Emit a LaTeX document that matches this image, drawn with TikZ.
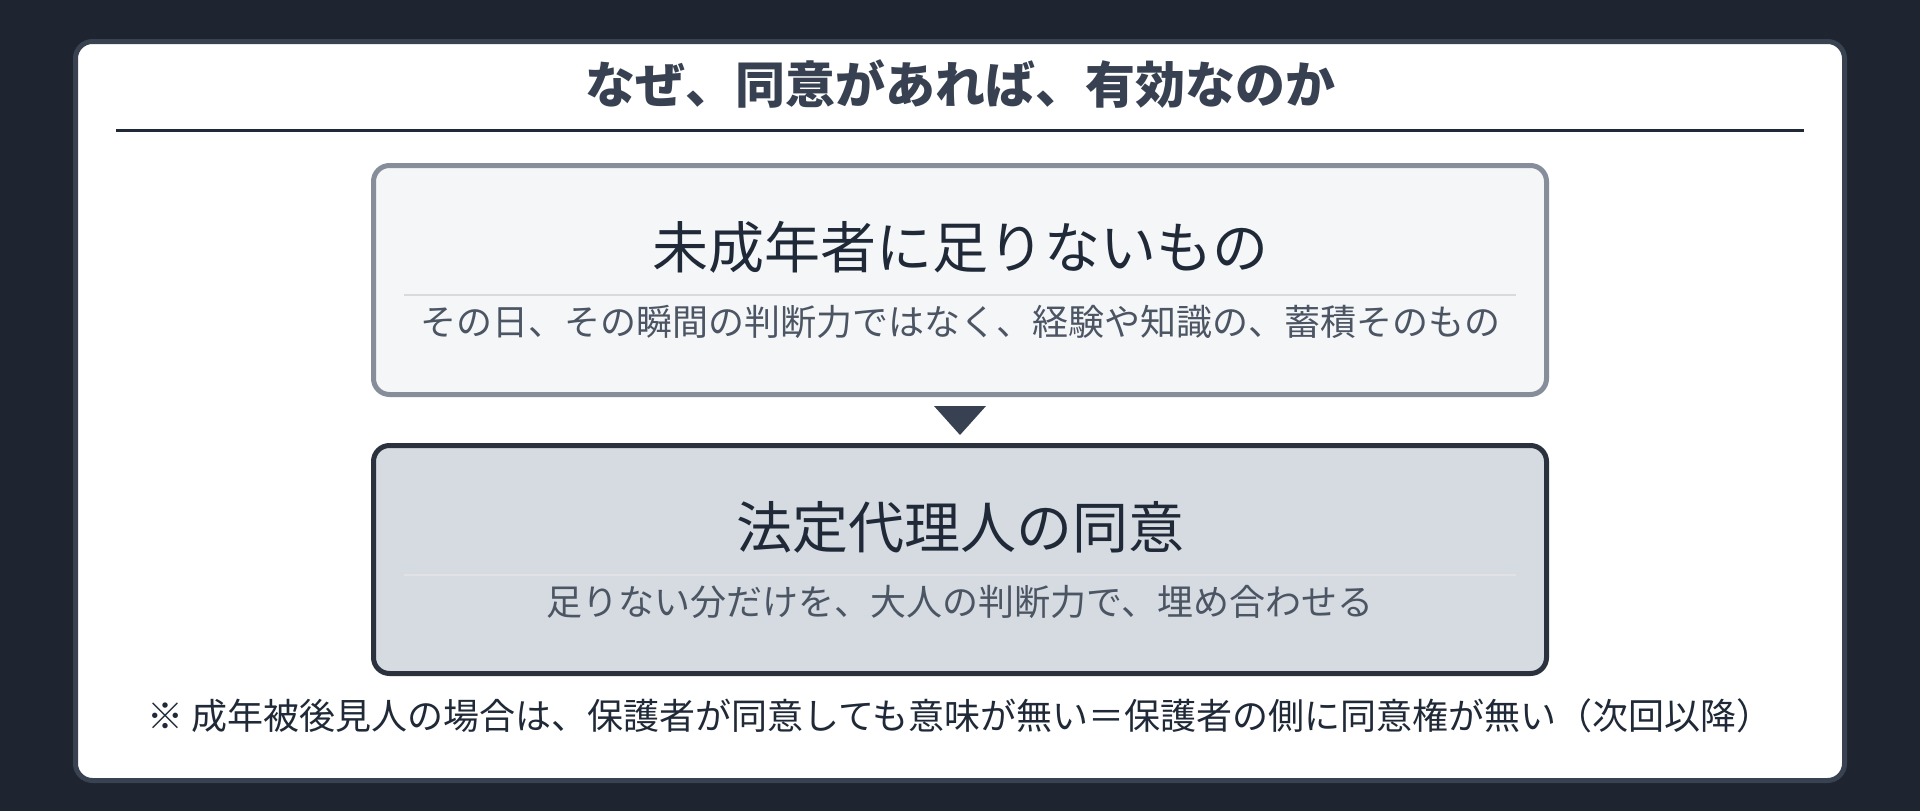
\documentclass[tikz,border=0pt]{standalone}
\usepackage{fontspec}
\setmainfont{Noto Sans CJK JP}
\usetikzlibrary{positioning}
\definecolor{bgdark}{HTML}{1E2530}
\definecolor{cardline}{HTML}{394250}
\definecolor{titlecol}{HTML}{374151}
\definecolor{inkdark}{HTML}{1F2937}
\definecolor{inksub}{HTML}{4B5563}
\definecolor{needfill}{HTML}{F5F6F8}
\definecolor{needline}{HTML}{868E9B}
\definecolor{consfill}{HTML}{D6DAE1}
\definecolor{consline}{HTML}{2B323D}
\definecolor{needrule}{HTML}{D8DADD}
\definecolor{consrule}{HTML}{E0E2E6}
\tikzset{
  panel/.style={rectangle, rounded corners=16pt, line width=5pt, minimum width=1173pt, inner sep=0pt},
  headtext/.style={inner sep=0pt, text=inkdark, font=\fontsize{56}{60}\selectfont},
  subtext/.style={inner sep=0pt, text=inksub, font=\fontsize{36}{40}\selectfont},
}
\begin{document}
\begin{tikzpicture}[x=1pt, y=-1pt]
      \fill[bgdark] (0,0) rectangle (1920,811);
      \draw[cardline, line width=5pt, fill=white, rounded corners=17pt] (75.5,41.5) rectangle (1844.5,780.5);

      \node[inner sep=0pt, text=titlecol, font=\fontsize{50}{54}\selectfont\bfseries] (title) at (960,84) {なぜ、同意があれば、有効なのか};
      \draw[inkdark, line width=3pt] (116,130) -- (1804,130);

      \node[panel, draw=needline, fill=needfill, minimum height=229pt] (need) at (960,280) {};
      \node[headtext] (needhead) at (960,247) {未成年者に足りないもの};
      \draw[needrule, line width=2pt] (404,295) -- (1516,295);
      \node[subtext] (needsub) at (960,322) {その日、その瞬間の判断力ではなく、経験や知識の、蓄積そのもの};

      \fill[titlecol] (934,406) -- (986,406) -- (960,435) -- cycle;

      \node[panel, draw=consline, fill=consfill, minimum height=228pt] (cons) at (960,559.5) {};
      \node[headtext] (conshead) at (960,527) {法定代理人の同意};
      \draw[consrule, line width=2pt] (404,575) -- (1516,575);
      \node[subtext] (conssub) at (960,602) {足りない分だけを、大人の判断力で、埋め合わせる};

      \node[inner sep=0pt, anchor=west, text=inkdark, font=\fontsize{36}{40}\selectfont] (note) at (147,716) {※ 成年被後見人の場合は、保護者が同意しても意味が無い＝保護者の側に同意権が無い（次回以降）};
    \end{tikzpicture}
\end{document}
